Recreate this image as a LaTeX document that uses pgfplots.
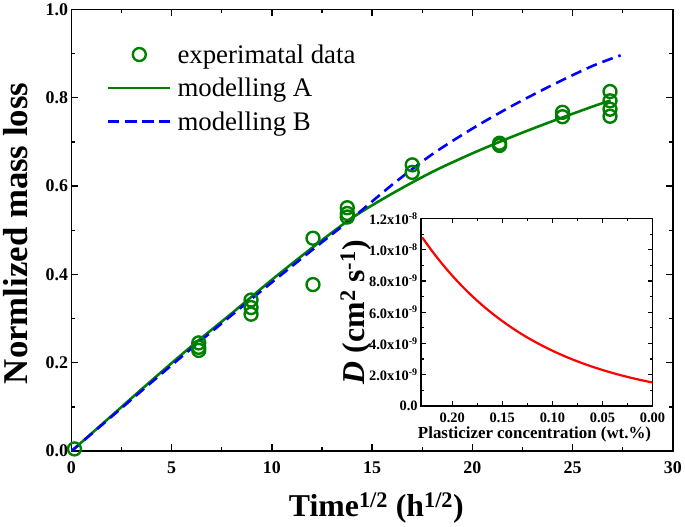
\documentclass[border=0pt]{standalone}
\usepackage{pgfplots}
\pgfplotsset{compat=1.18}
\usepackage{fontspec}
\setmainfont{Liberation Serif}

\definecolor{dgreen}{RGB}{0,128,0}

\begin{document}
\begin{tikzpicture}
% main plot
\begin{axis}[
    name=main,
    scale only axis, width=603bp, height=443bp,
    xmin=0, xmax=30, ymin=0, ymax=1,
    xtick={0,5,...,30}, ytick={0,0.2,...,1.0},
    xticklabels={\textbf{0},\textbf{5},\textbf{10},\textbf{15},\textbf{20},\textbf{25},\textbf{30}},
    yticklabels={\textbf{0.0},\textbf{0.2},\textbf{0.4},\textbf{0.6},\textbf{0.8},\textbf{1.0}},
    minor tick num=1,
    tick align=inside, major tick length=7bp, minor tick length=4bp,
    axis line style={line width=1.6bp}, tick style={line width=1.4bp, black},
    tick label style={font=\fontsize{18}{20}\selectfont},
    xticklabel style={yshift=-7bp},
    xlabel={\bfseries Time\textsuperscript{1/2} (h\textsuperscript{1/2})},
    ylabel={\bfseries Normlized mass loss},
    every axis x label/.style={at={(axis description cs:0.507,-0.147)}, anchor=base,
        font=\fontsize{32}{34}\selectfont},
    every axis y label/.style={at={(axis description cs:-0.093,0.493)}, anchor=center,
        rotate=90, font=\fontsize{35}{37}\selectfont},
    legend cell align=left,
    legend style={draw=none, fill=none, font=\fontsize{27}{29}\selectfont,
        at={(axis description cs:0.054,0.93)}, anchor=north west, row sep=9.5bp,
        nodes={inner xsep=6bp}},
    legend image code/.code={\draw[mark repeat=2,mark phase=2,#1]
        plot coordinates {(0bp,0bp) (31bp,0bp) (62bp,0bp)};},
]
\addplot[only marks, mark=o, mark size=6.5bp, dgreen, line width=2.4bp] coordinates {
    (0.15,0.005)
    (6.35,0.245) (6.35,0.235) (6.35,0.228)
    (8.96,0.342) (8.96,0.325) (8.96,0.310)
    (12.05,0.482) (12.05,0.377)
    (13.76,0.551) (13.76,0.538) (13.76,0.530)
    (17.0,0.648) (17.0,0.631)
    (21.36,0.697) (21.36,0.692)
    (24.5,0.767) (24.5,0.757)
    (26.87,0.814) (26.87,0.793) (26.87,0.774) (26.87,0.758)
};
\addlegendentry{experimatal data}
\addplot[dgreen, line width=2.6bp, smooth] coordinates {
    (0,0) (2,0.080) (4,0.160) (6,0.238) (8,0.312) (10,0.388) (12,0.460)
    (14,0.528) (16,0.583) (18,0.632) (20,0.674) (22,0.712) (24,0.747)
    (26,0.780) (26.9,0.794)
};
\addlegendentry{modelling A}
\addplot[blue, line width=2.6bp, dash pattern=on 11bp off 6bp, smooth] coordinates {
    (0,0) (2,0.078) (4,0.156) (6,0.233) (8,0.308) (10,0.382) (12,0.455)
    (14,0.527) (16,0.603) (18,0.672) (20,0.730) (22,0.782) (24,0.829)
    (26,0.872) (27.4,0.896)
};
\addlegendentry{modelling B}
\end{axis}

% inset
\begin{axis}[
    at={(350.7bp,45.3bp)}, anchor=south west,
    scale only axis, width=232bp, height=188bp,
    x dir=reverse,
    xmin=0, xmax=0.231, ymin=0, ymax=12,
    xtick={0,0.05,...,0.2}, ytick={0,2,...,12},
    xticklabels={\textbf{0.00},\textbf{0.05},\textbf{0.10},\textbf{0.15},\textbf{0.20}},
    yticklabels={\textbf{0.0},\textbf{2.0x10\textsuperscript{-9}},\textbf{4.0x10\textsuperscript{-9}},
        \textbf{6.0x10\textsuperscript{-9}},\textbf{8.0x10\textsuperscript{-9}},
        \textbf{1.0x10\textsuperscript{-8}},\textbf{1.2x10\textsuperscript{-8}}},
    minor tick num=1,
    tick align=inside, major tick length=5bp, minor tick length=3bp,
    axis line style={line width=1.4bp}, tick style={line width=1.2bp, black},
    axis background/.style={fill=white},
    tick label style={font=\fontsize{14.5}{16}\selectfont},
    xticklabel style={yshift=-3bp},
    xlabel={\bfseries Plasticizer concentration (wt.\%)},
    ylabel={\bfseries\textit{D} (cm\textsuperscript{2} s\textsuperscript{-1})},
    every axis x label/.style={at={(axis description cs:0.49,-0.175)}, anchor=base,
        font=\fontsize{17}{19}\selectfont},
    every axis y label/.style={at={(axis description cs:-0.283,0.5)}, anchor=center,
        rotate=90, font=\fontsize{32}{34}\selectfont},
]
\addplot[red, line width=2.2bp, smooth] coordinates {
    (0.00,1.500) (0.01,1.634) (0.02,1.781) (0.03,1.940) (0.04,2.114)
    (0.05,2.304) (0.06,2.510) (0.07,2.735) (0.08,2.980) (0.09,3.247)
    (0.10,3.538) (0.11,3.855) (0.12,4.200) (0.13,4.576) (0.14,4.986)
    (0.15,5.433) (0.16,5.920) (0.17,6.450) (0.18,7.028) (0.19,7.658)
    (0.20,8.344) (0.21,9.092) (0.22,9.906) (0.23,10.794)
};
\end{axis}
\end{tikzpicture}
\end{document}
